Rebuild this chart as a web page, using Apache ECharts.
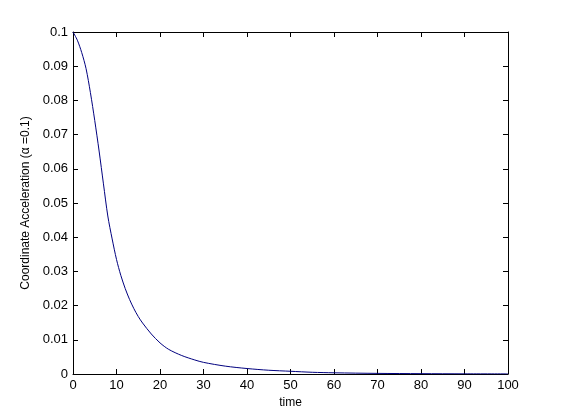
<!DOCTYPE html>
<html><head><meta charset="utf-8">
<script src="https://cdn.jsdelivr.net/npm/echarts@6/dist/echarts.min.js"></script>
<style>html,body{margin:0;padding:0;background:#fff}#c{width:561px;height:420px}</style>
</head><body><div id="c"></div>
<script>
const timeValues = [0,1,2,3,4,5,6,7,8,9,10,11,12,13,14,15,16,18,20,22,25,28,30,35,40,45,50,55,60,70,80,90,100];
const accelValues = [0.1,0.0976,0.094,0.0893,0.0823,0.0741,0.0652,0.0556,0.0462,0.0395,0.0335,0.0288,0.025,0.0218,0.0191,0.0168,0.0149,0.0117,0.0091,0.0072,0.0054,0.0041,0.0034,0.0023,0.0016,0.0011,0.0008,0.0005,0.00035,0.00018,0.0001,0.00005,0.00003];
const xTicks = [0,10,20,30,40,50,60,70,80,90,100];
const yTicks = [0,0.01,0.02,0.03,0.04,0.05,0.06,0.07,0.08,0.09,0.1];
const xLabel = 'time';
const yLabel = 'Coordinate Acceleration (α =0.1)';

const font = 'Liberation Sans, Arial, sans-serif';
const chart = echarts.init(document.getElementById('c'));
const axisLine = {show:true, onZero:false, lineStyle:{color:'#000', width:1}};
const tick = {show:true, inside:true, length:5, lineStyle:{color:'#000'}};
chart.setOption({
  animation:false,
  backgroundColor:'#fff',
  grid:{left:73, right:53, top:32, bottom:46, show:false},
  xAxis:[{
    type:'value', min:0, max:100, interval:10, position:'bottom',
    axisLine, axisTick:tick, splitLine:{show:false},
    axisLabel:{color:'#000', fontFamily:font, fontSize:13, margin:5, formatter:v=>String(v)},
    name:xLabel, nameLocation:'middle', nameGap:23,
    nameTextStyle:{color:'#000', fontFamily:font, fontSize:12}
  },{
    type:'value', min:0, max:100, interval:10, position:'top',
    axisLine, axisTick:tick, axisLabel:{show:false}, splitLine:{show:false}
  }],
  yAxis:[{
    type:'value', min:0, max:0.1, interval:0.01, position:'left',
    axisLine, axisTick:tick, splitLine:{show:false},
    axisLabel:{color:'#000', fontFamily:font, fontSize:13, margin:5,
      formatter:v=>{const r=Math.round(v*100)/100; return r===0?'0':String(r);}},
    name:yLabel, nameLocation:'middle', nameGap:38, nameRotate:90,
    nameTextStyle:{color:'#000', fontFamily:font, fontSize:12}
  },{
    type:'value', min:0, max:0.1, interval:0.01, position:'right',
    axisLine, axisTick:tick, axisLabel:{show:false}, splitLine:{show:false}
  }],
  series:[{
    type:'line', xAxisIndex:0, yAxisIndex:0,
    data: timeValues.map((t,i)=>[t, accelValues[i]]),
    smooth:0.3, showSymbol:false,
    lineStyle:{color:'#00007f', width:1}
  }]
});
</script></body></html>
